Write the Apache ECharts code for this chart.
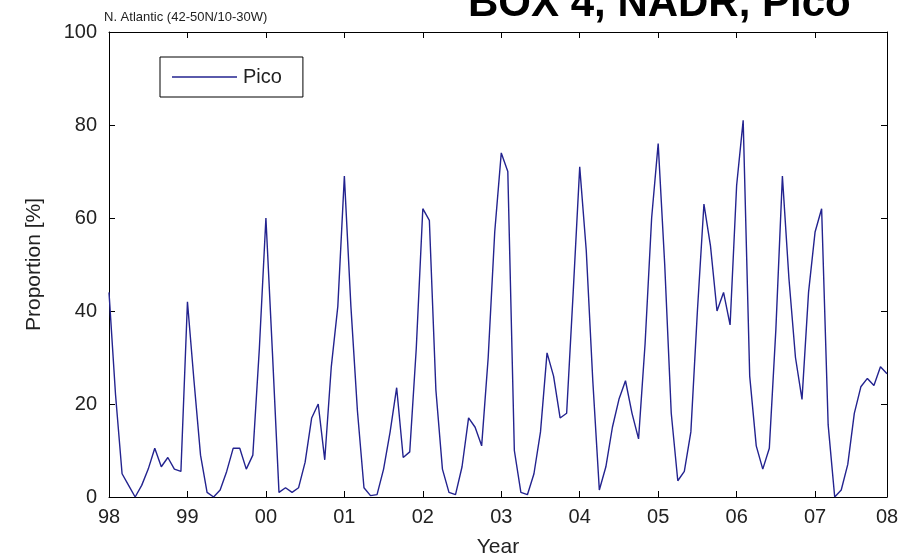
<!DOCTYPE html>
<html>
<head>
<meta charset="utf-8">
<script src="https://cdn.jsdelivr.net/npm/echarts@6/dist/echarts.min.js"></script>
<style>html,body{margin:0;padding:0;background:#fff;}#c{width:903px;height:559px;}</style>
</head>
<body>
<div id="c"></div>
<script>
// Monthly values, Jan 1998 (month 0) to Dec 2007 (month 119)
const pico = [
  44, 22, 5, 2.5, 0, 2.5, 6, 10.5, 6.5, 8.5, 6, 5.5,
  42, 25, 9, 1, 0, 1.5, 5.5, 10.5, 10.5, 6, 9, 32,
  60, 31, 1, 2, 1, 2, 7.5, 17, 20, 8, 28, 41,
  69, 41, 18.5, 2, 0.3, 0.5, 6, 14, 23.5, 8.5, 9.7, 32,
  62, 59.5, 23, 6, 1, 0.5, 6.5, 17, 15, 11, 30, 57,
  74, 70, 10, 1, 0.5, 5, 14, 31, 26, 17, 18, 44,
  71, 53, 25, 1.5, 6.5, 15, 21, 25, 18, 12.5, 33, 60,
  76, 50, 18, 3.5, 5.5, 14, 40, 63, 54, 40, 44, 37,
  67, 81, 26, 11, 6, 10.5, 36, 69, 47, 30, 21, 44,
  57, 62, 15.5, 0, 1.5, 7, 18, 23.7, 25.5, 24, 28, 26.5
];
const yearLabels = ['98','99','00','01','02','03','04','05','06','07','08'];
const seriesName = 'Pico';
const yTicks = [0, 20, 40, 60, 80, 100];

const data = pico.map((v, i) => [i, v]);
const chart = echarts.init(document.getElementById('c'));
const axisCommon = {
  axisLine: {show: true, onZero: false, lineStyle: {color: '#000', width: 1}},
  axisTick: {show: true, inside: true, length: 6, lineStyle: {color: '#000', width: 1}},
  splitLine: {show: false}
};
chart.setOption({
  backgroundColor: '#fff',
  animation: false,
  grid: {left: 109, right: 16, top: 32, bottom: 62, containLabel: false, outerBoundsMode: 'none'},
  graphic: [
    {type: 'text', left: 468, top: -17, style: {text: 'BOX 4, NADR, Pico', fontFamily: 'Liberation Sans, Arial', fontWeight: 'bold', fontSize: 42, fill: '#000'}},
    {type: 'text', left: 104, top: 11, style: {text: 'N. Atlantic (42-50N/10-30W)', fontFamily: 'Liberation Sans, Arial', fontSize: 13, fill: '#222'}}
  ],
  legend: {
    left: 160, top: 57,
    data: [seriesName],
    icon: 'rect', itemWidth: 65, itemHeight: 1.5, itemGap: 0,
    padding: [10, 21, 10, 12],
    borderColor: '#000', borderWidth: 1, backgroundColor: '#fff',
    textStyle: {fontFamily: 'Liberation Sans, Arial', fontSize: 20, color: '#222', padding: [0, 0, 0, 1]}
  },
  xAxis: [
    Object.assign({}, axisCommon, {
      type: 'value', position: 'bottom', min: 0, max: pico.length - 1, interval: 12,
      name: 'Year', nameLocation: 'middle', nameGap: 40,
      nameTextStyle: {fontFamily: 'Liberation Sans, Arial', fontSize: 21, color: '#222'},
      axisLabel: {show: true, margin: 10, showMaxLabel: true, fontFamily: 'Liberation Sans, Arial', fontSize: 20, color: '#222',
        formatter: v => v >= pico.length - 1 ? yearLabels[yearLabels.length - 1] : yearLabels[Math.round(v / 12)]}
    }),
    Object.assign({}, axisCommon, {
      type: 'value', position: 'top', min: 0, max: pico.length - 1, interval: 12,
      axisLabel: {show: false}
    })
  ],
  yAxis: [
    Object.assign({}, axisCommon, {
      type: 'value', position: 'left', min: yTicks[0], max: yTicks[yTicks.length - 1], interval: 20,
      name: 'Proportion [%]', nameLocation: 'middle', nameGap: 64,
      nameTextStyle: {fontFamily: 'Liberation Sans, Arial', fontSize: 21, color: '#222'},
      axisLabel: {margin: 12, fontFamily: 'Liberation Sans, Arial', fontSize: 20, color: '#222'}
    }),
    Object.assign({}, axisCommon, {
      type: 'value', position: 'right', min: 0, max: 100, interval: 20,
      axisLabel: {show: false}
    })
  ],
  series: [{
    name: seriesName, type: 'line', data: data, showSymbol: false, symbol: 'none',
    lineStyle: {color: '#23238f', width: 1.4}, itemStyle: {color: '#23238f'},
    xAxisIndex: 0, yAxisIndex: 0
  }]
});
</script>
</body>
</html>
